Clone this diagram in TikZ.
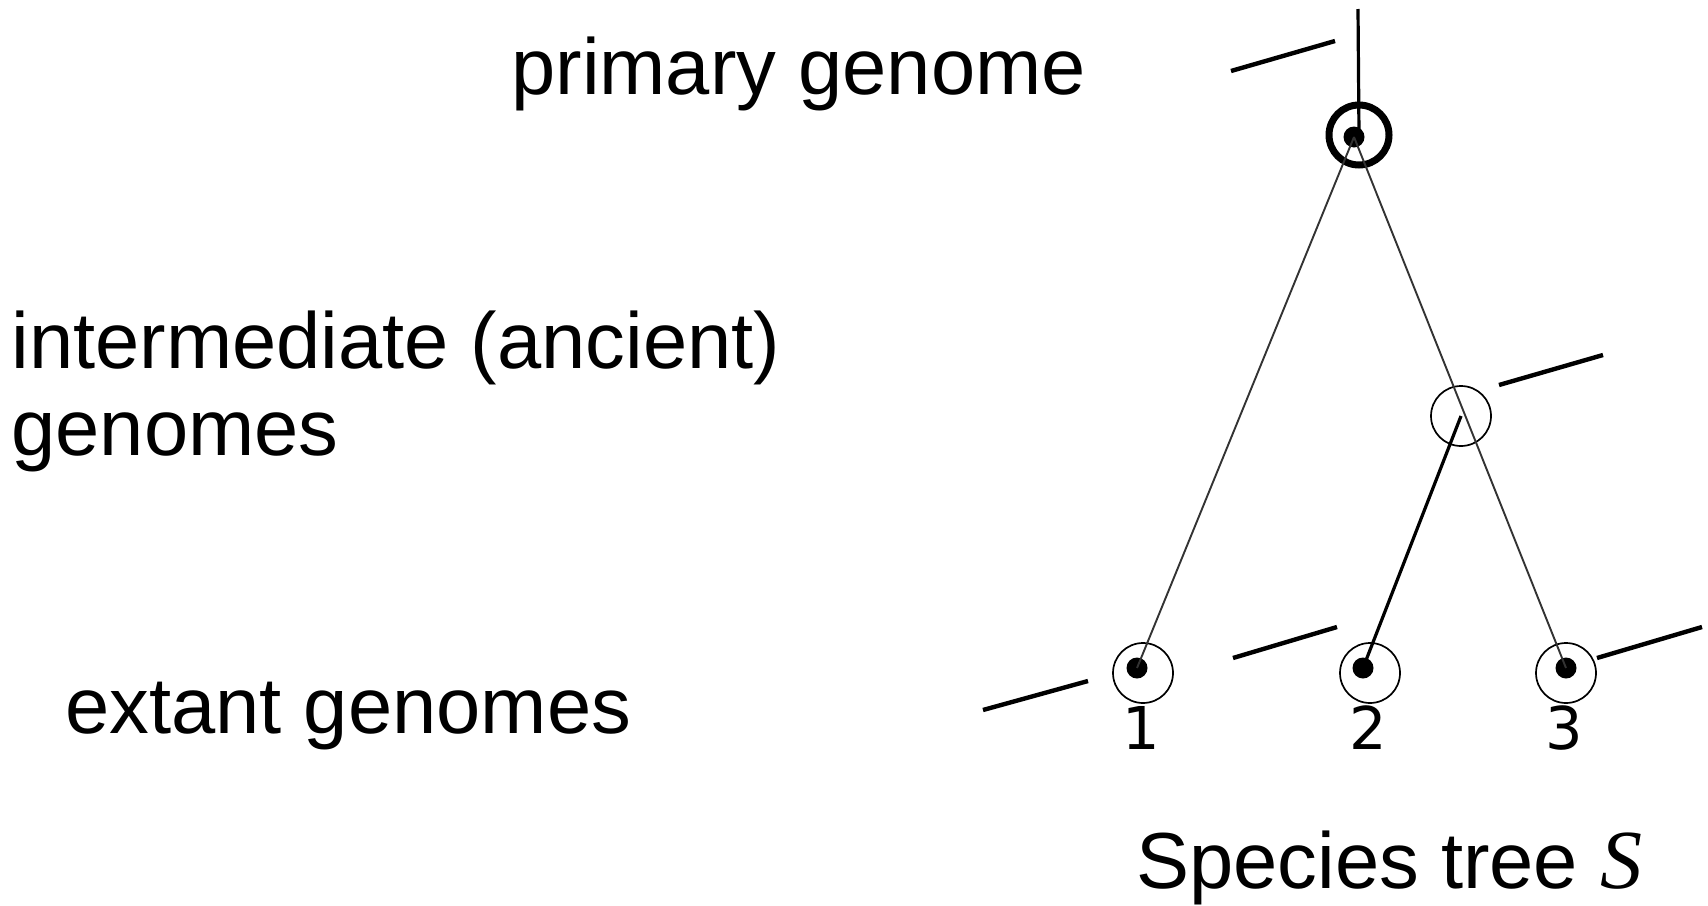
\documentclass[tikz,border=0pt]{standalone}
\usepackage{fontspec}
\setmainfont{Liberation Sans}
\newfontfamily\digitfont{DejaVu Sans}
\newfontfamily\treefont{Liberation Serif}
\usetikzlibrary{positioning}

\begin{document}
\begin{tikzpicture}[x=0.5pt, y=-0.5pt,
        genome/.style={circle, draw, line width=0.85pt, minimum size=30pt, inner sep=0pt},
        gdot/.style={circle, fill, minimum size=10.5pt, inner sep=0pt},
        seg/.style={line width=2.2pt},
        branch/.style={line width=0.95pt, black!80},
        txt/.style={font=\fontsize{39.75}{43.5}\selectfont, inner sep=0pt, anchor=base west}]
        \useasboundingbox (0,0) rectangle (1708,905);
        \node[genome, line width=3.5pt] (root) at (1359,135) {};
        \node[gdot] (rootdot) at (1354,137) {};
        \node[genome] (anc) at (1461,416) {};
        \foreach \i/\x/\d in {1/1143/-6, 2/1370/-7, 3/1566/0}{
        \node[genome] (leaf\i) at (\x,673) {};
        \node[gdot] (dot\i) at (\x+\d,668) {};
        \node[font=\digitfont\fontsize{29.5}{30}\selectfont, inner sep=0pt] 
        (num\i) at (\x-2,728) {\i};
        }
        \coordinate (stemtop) at (1358,9);
        \draw[line width=1.6pt] (root.center) -- (stemtop);
        \draw[branch] (rootdot.center) -- (dot1.center);
        \draw[branch] (rootdot.center) -- (dot3.center);
        \draw[line width=1.6pt] (dot2.center) -- (anc.center);
        \draw[seg] (1231,71) -- (1335,41);
        \draw[seg] (1499,385) -- (1603,355);
        \draw[seg] (983,710) -- (1088,681);
        \draw[seg] (1233,658) -- (1337,627);
        \draw[seg] (1597,658) -- (1702,627);
        \node[txt] (primary) at (511,94) {primary genome};
        \node[txt, align=left] (inter) at (11,455) {intermediate (ancient)\\genomes};
        \node[txt] (extant) at (65,733) {extant genomes};
        \node[txt] (species) at (1136,888) {Species tree {\treefont\itshape\fontsize{42}{42}\selectfont S}};
    \end{tikzpicture}
\end{document}
